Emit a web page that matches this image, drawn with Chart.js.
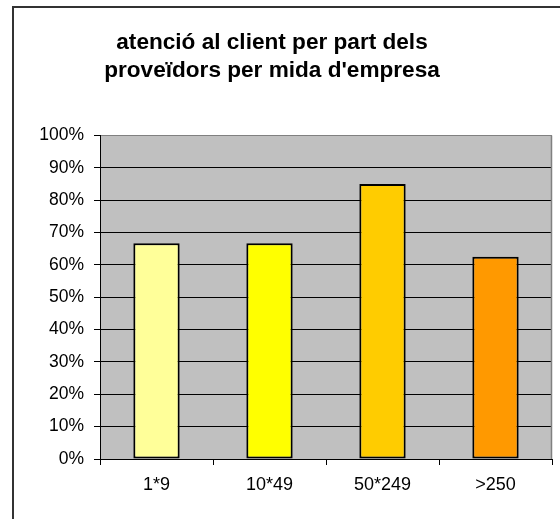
<!DOCTYPE html>
<html>
<head>
<meta charset="utf-8">
<script src="https://cdn.jsdelivr.net/npm/chart.js@4/dist/chart.umd.min.js"></script>
<style>
  html, body { margin: 0; padding: 0; background: #fff; overflow: hidden; }
  #wrap { position: absolute; left: -8px; top: 0; }
</style>
</head>
<body>
<div id="wrap"><canvas id="c" width="568" height="519"></canvas></div>
<script>
// Company-size categories and share of supplier customer service (%)
const categories = ['1*9', '10*49', '50*249', '>250'];
const values = [66.7, 66.7, 85, 62.5];
const barColors = ['#FFFF99', '#FFFF00', '#FFCC00', '#FF9900'];
const titleLines = ['atenció al client per part dels', "proveïdors per mida d'empresa"];

const FONT = "'Liberation Sans', Arial, sans-serif";

// Grey plot background, outer frame and plot edge lines
const framePlugin = {
  id: 'frame',
  beforeDraw(chart) {
    const { ctx, chartArea: a } = chart;
    ctx.save();
    ctx.fillStyle = '#fff';
    ctx.fillRect(0, 0, chart.width, chart.height);
    ctx.strokeStyle = '#333';
    ctx.lineWidth = 2;
    ctx.strokeRect(21, 7, 700, 700);
    ctx.fillStyle = '#C0C0C0';
    ctx.fillRect(a.left, a.top, a.right - a.left, a.bottom - a.top);
    ctx.restore();
  },
  beforeDatasetsDraw(chart) {
    const { ctx, chartArea: a } = chart;
    ctx.save();
    ctx.strokeStyle = '#808080';
    ctx.lineWidth = 1.5;
    ctx.beginPath();
    ctx.moveTo(a.right - 0.5, a.top);
    ctx.lineTo(a.right - 0.5, a.bottom);
    ctx.stroke();
    ctx.restore();
  }
};

new Chart(document.getElementById('c'), {
  type: 'bar',
  data: {
    labels: categories,
    datasets: [{
      data: values,
      backgroundColor: barColors,
      borderColor: '#000',
      borderWidth: 2,
      borderSkipped: false,
      categoryPercentage: 1,
      barPercentage: 0.41
    }]
  },
  options: {
    responsive: false,
    animation: false,
    layout: { padding: { left: 0, right: 8, top: 0, bottom: 0 } },
    plugins: {
      legend: { display: false },
      tooltip: { enabled: false },
      title: {
        display: true,
        text: titleLines,
        color: '#000',
        font: { family: FONT, size: 22.6, weight: 'bold', lineHeight: 1.24 },
        padding: { top: 29, bottom: 50.5 }
      }
    },
    scales: {
      x: {
        grid: { drawOnChartArea: false, color: '#000', tickLength: 6, offset: true },
        border: { color: '#000', width: 1 },
        ticks: { color: '#000', font: { family: FONT, size: 18 }, padding: 9 },
        afterFit(s) { s.height = 60; }
      },
      y: {
        min: 0,
        max: 100,
        grid: {
          color: (c) => (c.tick && c.tick.value === 100 ? '#808080' : '#000'),
          tickLength: 6,
          tickColor: '#000'
        },
        border: { color: '#000', width: 1 },
        ticks: {
          stepSize: 10,
          color: '#000',
          font: { family: FONT, size: 17.5 },
          padding: 10,
          callback: (v) => v + '%'
        },
        afterFit(s) { s.width = 108; }
      }
    }
  },
  plugins: [framePlugin]
});
</script>
</body>
</html>
